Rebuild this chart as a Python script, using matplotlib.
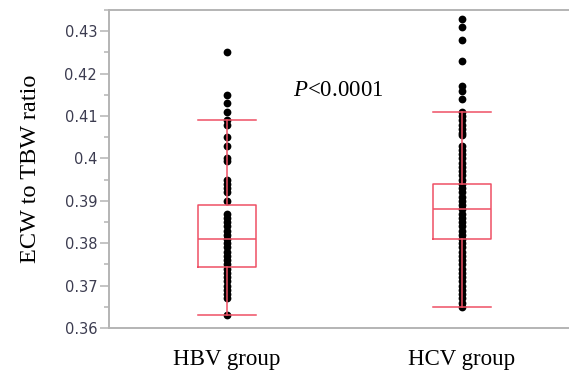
import numpy as np
import matplotlib.pyplot as plt
from matplotlib.ticker import MultipleLocator

plt.rcParams['mathtext.fontset'] = 'custom'
plt.rcParams['mathtext.it'] = 'Liberation Serif:italic'
plt.rcParams['mathtext.rm'] = 'Liberation Serif'

# data
groups = ['HBV group', 'HCV group']

hbv_points = [0.363, 0.367, 0.368, 0.369, 0.370, 0.371, 0.372, 0.373, 0.374,
              0.375, 0.376, 0.377, 0.378, 0.379, 0.380, 0.381, 0.382, 0.383,
              0.384, 0.385, 0.386, 0.387, 0.390, 0.392, 0.393, 0.394, 0.395,
              0.3995, 0.400, 0.403, 0.405, 0.408, 0.409, 0.411, 0.413, 0.415,
              0.425]
hcv_points = [0.365, 0.366, 0.367, 0.368, 0.369, 0.370, 0.371, 0.372, 0.373,
              0.374, 0.375, 0.376, 0.377, 0.378, 0.379, 0.380, 0.381, 0.382,
              0.383, 0.384, 0.385, 0.386, 0.387, 0.388, 0.389, 0.390, 0.391,
              0.392, 0.393, 0.394, 0.395, 0.396, 0.397, 0.398, 0.399, 0.400,
              0.401, 0.402, 0.403, 0.4055, 0.406, 0.407, 0.408, 0.409, 0.410,
              0.411, 0.414, 0.416, 0.417, 0.423, 0.428, 0.431, 0.433]

# box summaries (lower whisker, q1, median, q3, upper whisker)
whislo = [0.363, 0.365]
q1 = [0.3745, 0.381]
med = [0.381, 0.388]
q3 = [0.389, 0.394]
whishi = [0.409, 0.411]

red = '#ef5064'
grey = '#b4b4b4'

fig = plt.figure(figsize=(5.69, 3.74), dpi=100)
ax = fig.add_axes([0.1916, 0.123, 0.8084, 0.850])

pos = np.arange(len(groups))
for i, pts in enumerate([hbv_points, hcv_points]):
    ax.plot(np.full(len(pts), pos[i]), pts, 'o', color='black',
            markersize=5.6, markeredgewidth=0, zorder=2)

stats = []
for i in range(len(groups)):
    stats.append(dict(whislo=whislo[i], q1=q1[i], med=med[i], q3=q3[i],
                      whishi=whishi[i], fliers=[]))
lp = dict(color=red, linewidth=1.1)
ax.bxp(stats, positions=pos, widths=0.25, capwidths=0.25, showfliers=False,
       boxprops=lp, whiskerprops=lp, capprops=lp, medianprops=lp,
       manage_ticks=False, zorder=3)

ax.set_xlim(-0.502, 1.455)
ax.set_ylim(0.36, 0.435)
ax.set_xticks(pos)
ax.set_xticklabels(groups, family='Liberation Serif', fontsize=16.5)
ax.tick_params(axis='x', length=0, pad=15)

ax.yaxis.set_minor_locator(MultipleLocator(0.005))
ax.set_yticks(np.arange(0.36, 0.431, 0.01))
ax.set_yticklabels(['0.36', '0.37', '0.38', '0.39', '0.4', '0.41', '0.42', '0.43'])
ax.tick_params(axis='y', which='major', length=6.5, width=1.1, color=grey,
               labelsize=10.5, labelcolor='#3c3c50', pad=2)
ax.tick_params(axis='y', which='minor', length=3.5, width=1.1, color=grey)

ax.set_ylabel('ECW to TBW ratio', family='Liberation Serif', fontsize=17.5,
              labelpad=17)

for s in ['left', 'top', 'bottom']:
    ax.spines[s].set_color(grey)
    ax.spines[s].set_linewidth(1.4)
ax.spines['right'].set_visible(False)

ax.text(0.281, 0.4161, '$P$<0.0001', family='Liberation Serif', fontsize=16.5,
        ha='left', va='center')

plt.savefig('out.png', dpi=100)
